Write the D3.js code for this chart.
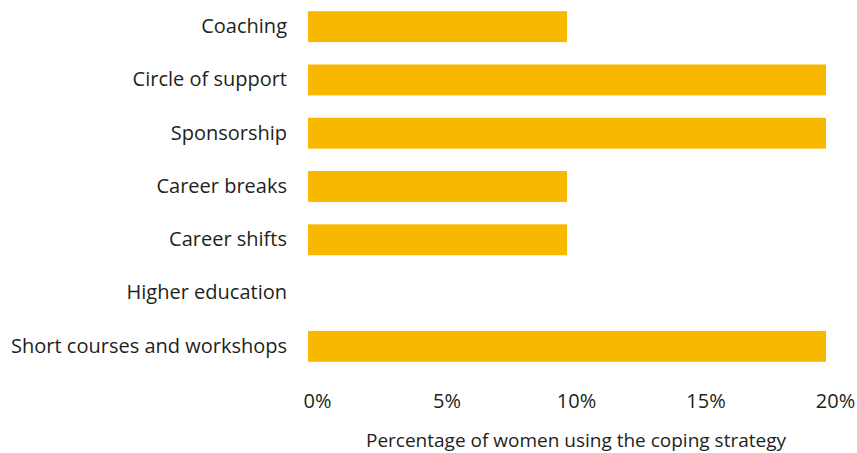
<!DOCTYPE html>
<html>
<head>
<meta charset="utf-8">
<script src="https://cdn.jsdelivr.net/npm/d3@7"></script>
<style>
  html, body { margin: 0; padding: 0; background: #fff; }
  text { font-family: "Open Sans", sans-serif; fill: #231f20; }
</style>
</head>
<body>
<svg id="chart" width="857" height="453"></svg>
<script>
// Coping strategies and share of women using each
const strategies = [
  "Coaching",
  "Circle of support",
  "Sponsorship",
  "Career breaks",
  "Career shifts",
  "Higher education",
  "Short courses and workshops"
];
const shares = [10, 20, 20, 10, 10, 0, 20];
const tickValues = [0, 5, 10, 15, 20];
const axisTitle = "Percentage of women using the coping strategy";

const rows = strategies.map((s, i) => ({ name: s, value: shares[i] }));

const svg = d3.select("#chart");
const plotLeft = 308, plotRight = 826, plotTop = 0, plotBottom = 373;

const x = d3.scaleLinear().domain([0, 20]).range([plotLeft, plotRight]);
const y = d3.scaleBand()
  .domain(strategies)
  .range([plotTop, plotBottom])
  .paddingInner(0.42)
  .paddingOuter(0.21);

// Bars
svg.append("g")
  .selectAll("rect")
  .data(rows)
  .join("rect")
  .attr("x", x(0))
  .attr("y", d => y(d.name))
  .attr("width", d => x(d.value) - x(0))
  .attr("height", y.bandwidth())
  .attr("fill", "#f9b800");

// Category labels
const yAxis = d3.axisLeft(y).tickSize(0).tickPadding(21);
const gy = svg.append("g").attr("transform", `translate(${plotLeft},0)`).call(yAxis);
gy.select(".domain").remove();
gy.selectAll("text").style("font-size", "20px").style("fill", "#231f20")
  .style("font-family", "'Open Sans', sans-serif");

// Value axis
const xAxis = d3.axisBottom(x).tickValues(tickValues).tickSize(0).tickPadding(0)
  .tickFormat(d => d + "%");
const gx = svg.append("g").attr("transform", "translate(0,394)").call(xAxis);
gx.select(".domain").remove();
gx.selectAll("text").attr("dx", 9).style("font-size", "20px").style("fill", "#231f20")
  .style("font-family", "'Open Sans', sans-serif");

// Axis title
svg.append("text")
  .attr("x", (x(0) + x(20)) / 2 + 9)
  .attr("y", 447)
  .attr("text-anchor", "middle")
  .style("font-size", "19px")
  .text(axisTitle);
</script>
</body>
</html>
